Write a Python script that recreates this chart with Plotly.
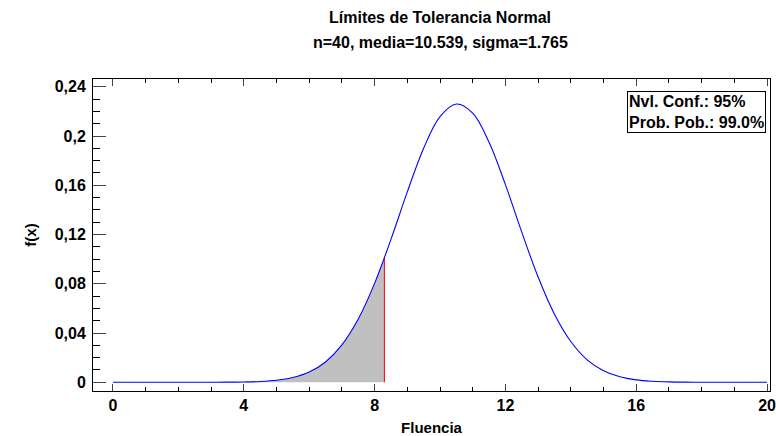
import plotly.graph_objects as go

# ---- data ----
x_vals = [0, 0.5, 1, 1.5, 2, 2.5, 3, 3.5, 4, 4.5, 5, 5.5, 6, 6.5, 7, 7.5, 8, 8.5, 9, 9.5,
          10, 10.5, 11, 11.5, 12, 12.5, 13, 13.5, 14, 14.5, 15, 15.5, 16, 16.5, 17, 17.5,
          18, 18.5, 19, 19.5, 20]
density = [0, 0, 0, 0, 0, 0, 0.00002, 0.00008, 0.00024, 0.00065, 0.00164, 0.00384, 0.00828,
           0.01649, 0.03029, 0.05133, 0.08033, 0.1160, 0.1546, 0.1901, 0.2157, 0.2260, 0.2185,
           0.1949, 0.1605, 0.1219, 0.0855, 0.0553, 0.0331, 0.0182, 0.0093, 0.0044, 0.0019,
           0.0008, 0.0003, 0.0001, 0.00003, 0, 0, 0, 0]
lower_limit = 8.3
lower_limit_density = 0.101

x_tick_vals = [0, 4, 8, 12, 16, 20]
x_tick_text = ["0", "4", "8", "12", "16", "20"]
y_tick_vals = [0, 0.04, 0.08, 0.12, 0.16, 0.2, 0.24]
y_tick_text = ["0", "0,04", "0,08", "0,12", "0,16", "0,2", "0,24"]

title_line1 = "Límites de Tolerancia Normal"
title_line2 = "n=40, media=10.539, sigma=1.765"
box_lines = ["Nvl. Conf.: 95%", "Prob. Pob.: 99.0%"]
x_title = "Fluencia"
y_title = "f(x)"

# shaded part: curve up to the lower limit
shade_x = [x for x in x_vals if x <= lower_limit] + [lower_limit]
shade_y = [y for x, y in zip(x_vals, density) if x <= lower_limit] + [lower_limit_density]

FONT = "Liberation Sans, Arial, sans-serif"

fig = go.Figure()
fig.add_trace(go.Scatter(x=shade_x, y=shade_y, mode="lines", fill="tozeroy",
                         fillcolor="#c0c0c0", line=dict(width=0, shape="spline"),
                         hoverinfo="skip", showlegend=False))
fig.add_trace(go.Scatter(x=[lower_limit, lower_limit], y=[0, lower_limit_density],
                         mode="lines", line=dict(color="#ff0000", width=1),
                         showlegend=False))
fig.add_trace(go.Scatter(x=x_vals, y=density, mode="lines",
                         line=dict(color="#0000ff", width=1.1, shape="spline"),
                         showlegend=False))

fig.update_layout(
    width=776, height=436,
    margin=dict(l=93, r=6, t=79, b=45),
    paper_bgcolor="white", plot_bgcolor="white",
    font=dict(family=FONT, size=14, color="black"),
    showlegend=False,
    annotations=[
        dict(text=title_line1, xref="paper", yref="paper", x=0.513, y=1.0,
             yshift=62, xanchor="center", yanchor="middle", showarrow=False,
             font=dict(family=FONT, size=16, weight="bold")),
        dict(text=title_line2, xref="paper", yref="paper", x=0.513, y=1.0,
             yshift=37, xanchor="center", yanchor="middle", showarrow=False,
             font=dict(family=FONT, size=16, weight="bold")),
        dict(text="<br>".join(box_lines), xref="paper", yref="paper",
             x=0.994, y=0.96, xanchor="right", yanchor="top", align="left",
             showarrow=False, bordercolor="black", borderwidth=1, borderpad=1,
             bgcolor="white", font=dict(family=FONT, size=16, weight="bold")),
    ],
)

fig.update_xaxes(
    range=[-0.61, 20.09], showgrid=False, zeroline=False, automargin=False,
    showline=True, linecolor="black", linewidth=1, mirror="allticks",
    ticks="inside", ticklen=7, tickcolor="#444", ticklabeloverflow="allow",
    tickmode="array", tickvals=x_tick_vals, ticktext=x_tick_text,
    tickfont=dict(family=FONT, size=16, weight="bold"),
    minor=dict(dtick=1, tick0=0, ticks="inside", ticklen=4, tickcolor="black"),
    title=dict(text=x_title, font=dict(family=FONT, size=15, weight="bold"), standoff=10),
)
fig.update_yaxes(
    range=[-0.0071, 0.2463], showgrid=False, zeroline=False, automargin=False,
    showline=True, linecolor="black", linewidth=1, mirror=True,
    ticks="inside", ticklen=13, tickcolor="#444", ticklabelstandoff=3,
    ticklabeloverflow="allow",
    tickmode="array", tickvals=y_tick_vals, ticktext=y_tick_text,
    tickfont=dict(family=FONT, size=16, weight="bold"),
    minor=dict(dtick=0.01, tick0=0, ticks="inside", ticklen=7, tickcolor="black"),
    title=dict(text=y_title, font=dict(family=FONT, size=15, weight="bold"), standoff=14),
)

fig.write_html("out.html")
